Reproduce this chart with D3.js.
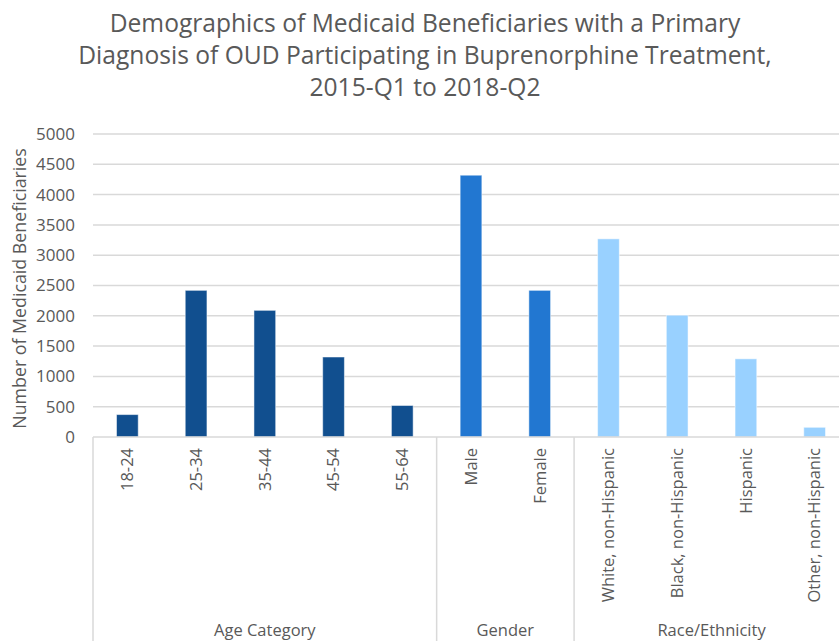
<!DOCTYPE html>
<html>
<head>
<meta charset="utf-8">
<script src="https://cdn.jsdelivr.net/npm/d3@7"></script>
<style>
  html, body { margin: 0; padding: 0; background: #fff; overflow: hidden; }
  text { font-family: "Open Sans", sans-serif; fill: #595959; }
</style>
</head>
<body>
<svg id="chart" width="839" height="641"></svg>
<script>
const titleLines = [
  "Demographics of Medicaid Beneficiaries with a Primary",
  "Diagnosis of OUD Participating in Buprenorphine Treatment,",
  "2015-Q1 to 2018-Q2"
];
const yAxisTitle = "Number of Medicaid Beneficiaries";
const categories = ["18-24", "25-34", "35-44", "45-54", "55-64", "Male", "Female",
  "White, non-Hispanic", "Black, non-Hispanic", "Hispanic", "Other, non-Hispanic"];
const values = [370, 2420, 2090, 1320, 520, 4320, 2420, 3270, 2010, 1290, 160];
const groupOf = ["Age Category", "Age Category", "Age Category", "Age Category", "Age Category",
  "Gender", "Gender",
  "Race/Ethnicity", "Race/Ethnicity", "Race/Ethnicity", "Race/Ethnicity"];
const groups = ["Age Category", "Gender", "Race/Ethnicity"];
const groupColors = ["#114f8f", "#2277d1", "#99d1ff"];
const yTicks = [0, 500, 1000, 1500, 2000, 2500, 3000, 3500, 4000, 4500, 5000];

const svg = d3.select("#chart");
const mLeft = 93, mRight = 849, mTop = 134, mBottom = 437;

const x = d3.scaleBand().domain(categories).range([mLeft, mRight])
  .paddingInner(0.684).paddingOuter(0.342);
const y = d3.scaleLinear().domain([0, 5000]).range([mBottom, mTop]);
const color = d3.scaleOrdinal().domain(groups).range(groupColors);

// Title
const title = svg.append("text").attr("text-anchor", "middle")
  .style("font-size", "24.6px");
titleLines.forEach((t, i) => {
  title.append("tspan").attr("x", 425).attr("y", 32 + i * 32).text(t);
});

// Gridlines
svg.append("g").selectAll("line").data(yTicks.filter(d => d > 0)).join("line")
  .attr("x1", mLeft).attr("x2", mRight)
  .attr("y1", d => y(d)).attr("y2", d => y(d))
  .attr("stroke", "#d9d9d9").attr("stroke-width", 1.5);

// Y axis tick labels
svg.append("g").selectAll("text").data(yTicks).join("text")
  .attr("x", 75).attr("y", d => y(d)).attr("dy", "0.35em")
  .attr("text-anchor", "end").style("font-size", "17px")
  .text(d => d);

// Y axis title
svg.append("text")
  .attr("transform", `translate(20,${(mTop + mBottom) / 2 + 3}) rotate(-90)`)
  .attr("text-anchor", "middle").attr("dy", "0.35em")
  .style("font-size", "17.8px").text(yAxisTitle);

// Bars
svg.append("g").selectAll("rect").data(categories).join("rect")
  .attr("x", d => x(d)).attr("width", x.bandwidth())
  .attr("y", (d, i) => y(values[i]))
  .attr("height", (d, i) => y(0) - y(values[i]))
  .attr("fill", (d, i) => color(groupOf[i]))
  .attr("stroke", "#ffffff").attr("stroke-opacity", 0.5).attr("stroke-width", 1);

// Category axis line
svg.append("line").attr("x1", mLeft).attr("x2", mRight)
  .attr("y1", mBottom).attr("y2", mBottom)
  .attr("stroke", "#d9d9d9").attr("stroke-width", 1.5);

// Category tick labels (rotated)
svg.append("g").selectAll("text").data(categories).join("text")
  .attr("transform", d => `translate(${x(d) + x.bandwidth() / 2},448) rotate(-90)`)
  .attr("text-anchor", "end").attr("dy", "0.35em")
  .style("font-size", "16.5px").text(d => d);

// Group separators and labels
const groupExtents = groups.map(g => {
  const cats = categories.filter((c, i) => groupOf[i] === g);
  const step = x.step();
  const x0 = x(cats[0]) + x.bandwidth() / 2 - step / 2;
  const x1 = x(cats[cats.length - 1]) + x.bandwidth() / 2 + step / 2;
  return { g, x0, x1 };
});
const seps = [groupExtents[0].x0, ...groupExtents.map(d => d.x1)];
svg.append("g").selectAll("line").data(seps).join("line")
  .attr("x1", d => d).attr("x2", d => d)
  .attr("y1", mBottom).attr("y2", 641)
  .attr("stroke", "#d9d9d9").attr("stroke-width", 1.5);

svg.append("g").selectAll("text").data(groupExtents).join("text")
  .attr("x", d => (d.x0 + d.x1) / 2).attr("y", 636)
  .attr("text-anchor", "middle").style("font-size", "16.5px")
  .text(d => d.g);
</script>
</body>
</html>
